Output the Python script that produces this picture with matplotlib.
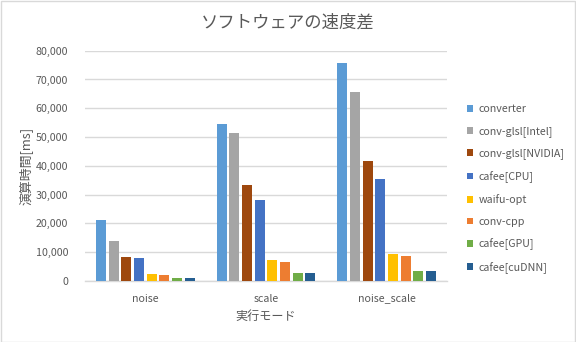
import matplotlib
matplotlib.use("Agg")
import matplotlib.pyplot as plt
import numpy as np
from matplotlib.patches import Rectangle
from matplotlib.ticker import FuncFormatter

plt.rcParams['font.family'] = ['Noto Sans CJK JP', 'DejaVu Sans']

categories = ["noise", "scale", "noise_scale"]
series = ["converter", "conv-glsl[Intel]", "conv-glsl[NVIDIA]", "cafee[CPU]",
          "waifu-opt", "conv-cpp", "cafee[GPU]", "cafee[cuDNN]"]
converter = [21200, 54500, 75700]
conv_glsl_intel = [13900, 51400, 65600]
conv_glsl_nvidia = [8300, 33300, 41700]
cafee_cpu = [8000, 28100, 35400]
waifu_opt = [2400, 7300, 9400]
conv_cpp = [2100, 6600, 8700]
cafee_gpu = [1000, 2800, 3500]
cafee_cudnn = [1000, 2800, 3500]
values = [converter, conv_glsl_intel, conv_glsl_nvidia, cafee_cpu,
          waifu_opt, conv_cpp, cafee_gpu, cafee_cudnn]
colors = ["#5B9BD5", "#A5A5A5", "#9E480E", "#4472C4",
          "#FFC000", "#ED7D31", "#70AD47", "#255E91"]

title = "ソフトウェアの速度差"
xlabel = "実行モード"
ylabel = "演算時間[ms]"

text_color = "#595959"
grid_color = "#D9D9D9"

fig = plt.figure(figsize=(5.76, 3.42), dpi=100)
fig.patch.set_facecolor("white")
fig.add_artist(Rectangle((0.001, 0.001), 0.997, 0.996, transform=fig.transFigure,
                         fill=False, edgecolor=grid_color, linewidth=1.0))

ax = fig.add_axes([85 / 576, 1 - 281 / 342, (447 - 85) / 576, (281 - 50.7) / 342])
x = np.arange(len(categories))
step = 0.105
width = 0.083
n = len(series)
handles = []
for i, (name, vals, c) in enumerate(zip(series, values, colors)):
    offs = (i - (n - 1) / 2) * step
    b = ax.bar(x + offs, vals, width=width, color=c, label=name, zorder=3)
    handles.append(b)

ax.set_xlim(-0.5, len(categories) - 0.5)
ax.set_ylim(0, 80000)
ax.set_yticks(np.arange(0, 80001, 10000))
ax.yaxis.set_major_formatter(FuncFormatter(lambda v, p: f"{int(v):,}"))
ax.set_xticks(x)
ax.set_xticklabels(categories)
ax.grid(axis="y", color=grid_color, linewidth=1.0, zorder=0)
ax.set_axisbelow(True)
for s in ["top", "right", "left"]:
    ax.spines[s].set_visible(False)
ax.spines["bottom"].set_color(grid_color)
ax.spines["bottom"].set_linewidth(1.0)
ax.tick_params(axis="both", length=0, labelsize=7.7, labelcolor=text_color)
ax.tick_params(axis="y", pad=12)
ax.tick_params(axis="x", pad=9)

fig.text(288 / 576, 1 - 23 / 342, title, ha="center", va="center",
         fontsize=12.5, color=text_color)
fig.text(266 / 576, 1 - 316.5 / 342, xlabel, ha="center", va="center",
         fontsize=8.7, color=text_color)
fig.text(26 / 576, 1 - 166 / 342, ylabel, ha="center", va="center",
         fontsize=9.3, color=text_color, rotation=90)

leg = fig.legend(handles=handles, labels=series, loc="upper left",
                 bbox_to_anchor=(467 / 576, 1 - 104.5 / 342), frameon=False,
                 fontsize=7.7, labelcolor=text_color, handlelength=0.6,
                 handleheight=0.6, handletextpad=0.45, labelspacing=1.08,
                 borderaxespad=0, borderpad=0)

fig.savefig("out.png", dpi=100, facecolor="white")
